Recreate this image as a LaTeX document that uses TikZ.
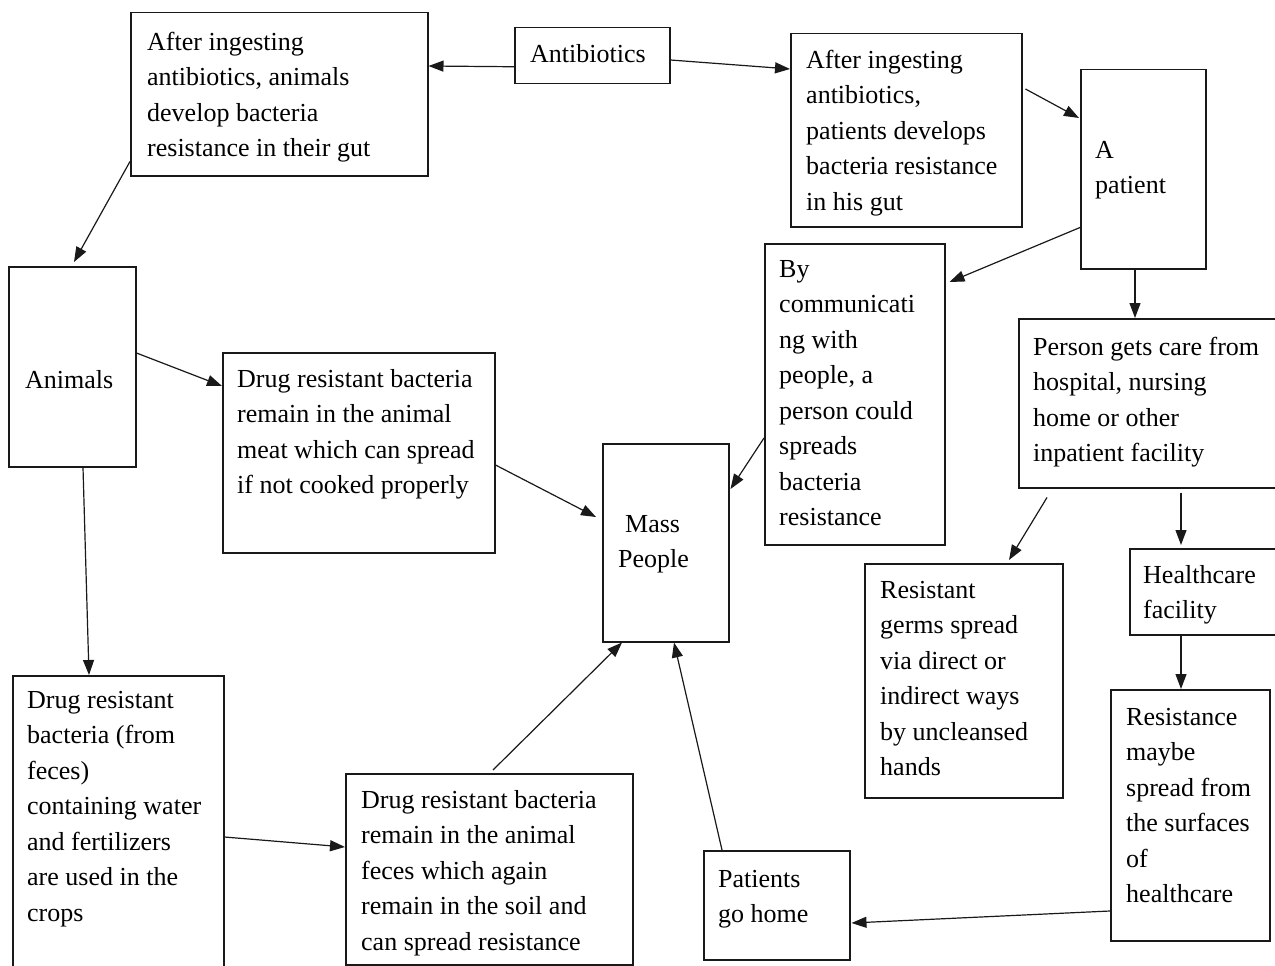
\documentclass[tikz,border=0pt]{standalone}
\usepackage{fontspec}
\setmainfont{Liberation Serif}
\usetikzlibrary{calc,arrows.meta}
\begin{document}
\begin{tikzpicture}[x=1pt,y=-1pt,
  box/.style={draw=black!90,line width=1.5pt,rectangle,inner sep=0pt,anchor=north west},
  txt/.style={inner sep=0pt,anchor=north west,align=left,font=\fontsize{26}{35.5}\selectfont},
  conn/.style={draw=black!90,line width=1.2pt,-{Triangle[length=15pt,width=11pt]}}]
\useasboundingbox (0,0) rectangle (1275,966);
% boxes
\node[box,minimum width=155pt,minimum height=56pt] (anti) at (514,27) {};
\node[box,minimum width=297pt,minimum height=163pt] (a1) at (130,12) {};
\node[box,minimum width=231pt,minimum height=193pt] (p1) at (790,33) {};
\node[box,minimum width=125pt,minimum height=199pt] (pat) at (1080,69) {};
\node[box,minimum width=127pt,minimum height=200pt] (animals) at (8,266) {};
\node[box,minimum width=180pt,minimum height=301pt] (by) at (764,243) {};
\node[box,minimum width=270pt,minimum height=169pt] (person) at (1018,318) {};
\node[box,minimum width=272pt,minimum height=200pt] (meat) at (222,352) {};
\node[box,minimum width=126pt,minimum height=198pt] (mass) at (602,443) {};
\node[box,minimum width=198pt,minimum height=234pt] (germs) at (864,563) {};
\node[box,minimum width=160pt,minimum height=86pt] (hc) at (1129,548) {};
\node[box,minimum width=159pt,minimum height=251pt] (res) at (1110,689) {};
\node[box,minimum width=146pt,minimum height=109pt] (home) at (703,850) {};
\node[box,minimum width=211pt,minimum height=320pt] (crops) at (12,675) {};
\node[box,minimum width=287pt,minimum height=191pt] (soil) at (345,773) {};
% texts
\node[txt] (antiT) at (530,37.15) {\strut Antibiotics};
\node[txt] (a1T) at (147,25.15) {\strut After ingesting\\antibiotics, animals\\develop bacteria\\resistance in their gut};
\node[txt] (p1T) at (806,43.15) {\strut After ingesting\\antibiotics,\\patients develops\\bacteria resistance\\in his gut};
\node[txt] (patT) at (1095,133.15) {\strut A\\patient};
\node[txt] (animalsT) at (25,363.15) {\strut Animals};
\node[txt] (meatT) at (237,362.15) {\strut Drug resistant bacteria\\remain in the animal\\meat which can spread\\if not cooked properly};
\node[txt] (byT) at (779,252.15) {\strut By\\communicati\\ng with\\people, a\\person could\\spreads\\bacteria\\resistance};
\node[txt] (personT) at (1033,330.15) {\strut Person gets care from\\hospital, nursing\\home or other\\inpatient facility};
\node[txt] (massT) at (618,507.15) {\strut\hspace*{7pt}Mass\\People};
\node[txt] (germsT) at (880,573.15) {\strut Resistant\\germs spread\\via direct or\\indirect ways\\by uncleansed\\hands};
\node[txt] (hcT) at (1143,558.15) {\strut Healthcare\\facility};
\node[txt] (resT) at (1126,700.15) {\strut Resistance\\maybe\\spread from\\the surfaces\\of\\healthcare};
\node[txt] (homeT) at (718,862.15) {\strut Patients\\go home};
\node[txt] (cropsT) at (27,683.15) {\strut Drug resistant\\bacteria (from\\feces)\\containing water\\and fertilizers\\are used in the\\crops};
\node[txt] (soilT) at (361,783.15) {\strut Drug resistant bacteria\\remain in the animal\\feces which again\\remain in the soil and\\can spread resistance};
% connectors
\draw[conn] ($(anti.west)+(0,11)$) -- ($(a1.north east)+(0,54)$);
\draw[conn] ($(anti.north east)+(0,33)$) -- ($(p1.north west)+(0,36)$);
\draw[conn] ($(a1.south west)+(0,-15)$) -- ($(animals.north west)+(66,-4)$);
\draw[conn] ($(p1.north east)+(3,56)$) -- ($(pat.north west)+(-1,49)$);
\draw[conn] ($(pat.south west)+(0,-42)$) -- ($(by.north east)+(4,39)$);
\draw[conn] ($(pat.south west)+(55,0)$) -- ($(person.north west)+(117,0)$);
\draw[conn] ($(animals.north east)+(0,87)$) -- ($(meat.north west)+(0,34)$);
\draw[conn] ($(meat.north east)+(0,113)$) -- ($(mass.north west)+(-6,74)$);
\draw[conn] ($(by.north west)+(0,195)$) -- ($(mass.north east)+(1,46)$);
\draw[conn] ($(animals.south west)+(75,0)$) -- ($(crops.north west)+(77,0)$);
\draw[conn] ($(crops.north east)+(0,162)$) -- ($(soil.north west)+(0,74)$);
\draw[conn] ($(soil.north west)+(148,-3)$) -- ($(mass.south west)+(20,0)$);
\draw[conn] ($(home.north west)+(19,0)$) -- ($(mass.south west)+(72,0)$);
\draw[conn] ($(person.south west)+(29,9)$) -- ($(germs.north west)+(145,-3)$);
\draw[conn] ($(person.south west)+(163,4)$) -- ($(hc.north west)+(52,-3)$);
\draw[conn] ($(hc.south west)+(52,0)$) -- ($(res.north west)+(71,0)$);
\draw[conn] ($(res.north west)+(0,222)$) -- ($(home.north east)+(1,73)$);
\end{tikzpicture}
\end{document}
